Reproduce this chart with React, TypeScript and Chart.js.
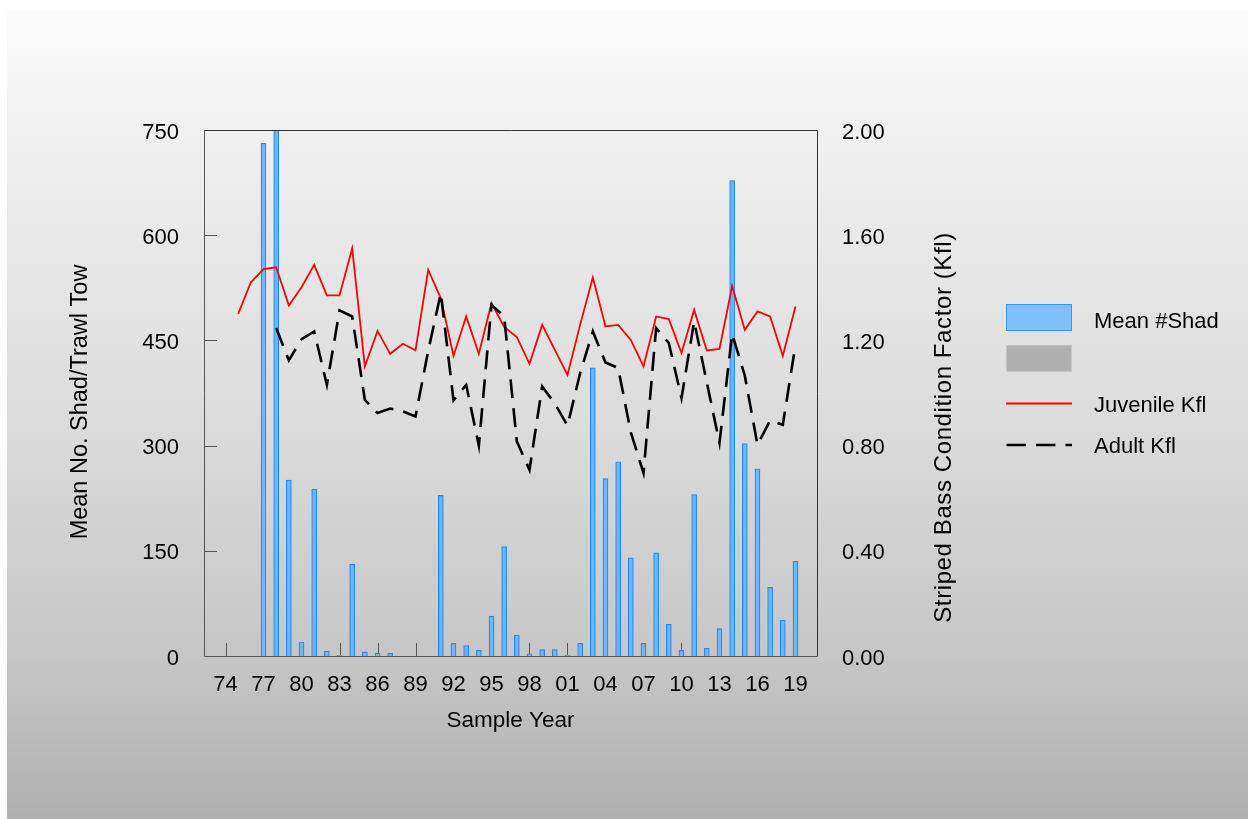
import React, { useEffect, useRef } from "react";
import { Chart, registerables } from "chart.js";

Chart.register(...registerables);

const FONT = '"Liberation Sans", Arial, Helvetica, sans-serif';

// Sample years (x categories)
const years = [
  1974, 1975, 1976, 1977, 1978, 1979, 1980, 1981, 1982, 1983, 1984, 1985,
  1986, 1987, 1988, 1989, 1990, 1991, 1992, 1993, 1994, 1995, 1996, 1997,
  1998, 1999, 2000, 2001, 2002, 2003, 2004, 2005, 2006, 2007, 2008, 2009,
  2010, 2011, 2012, 2013, 2014, 2015, 2016, 2017, 2018, 2019,
];

// Mean #Shad per trawl tow (left axis)
const meanShad = [
  null, null, null, 731, 750, 251, 20, 238, 7, 1, 131, 6,
  4, 4, null, null, null, 229, 18, 15, 8, 57, 156, 30,
  3, 9, 9, 1, 18, 411, 253, 277, 140, 18, 147, 45,
  8, 230, 11, 39, 678, 303, 267, 98, 51, 135,
];

// Juvenile Kfl (right axis)
const juvenileKfl = [
  null, 1.301, 1.421, 1.471, 1.478, 1.333, 1.402, 1.487, 1.371, 1.371, 1.55, 1.101,
  1.236, 1.149, 1.187, 1.162, 1.468, 1.36, 1.141, 1.291, 1.149, 1.342, 1.251, 1.213,
  1.111, 1.259, 1.164, 1.069, 1.26, 1.439, 1.253, 1.259, 1.202, 1.101, 1.291, 1.281,
  1.152, 1.316, 1.162, 1.168, 1.407, 1.24, 1.31, 1.291, 1.141, 1.329,
];

// Adult Kfl (right axis)
const adultKfl = [
  null, null, null, null, 1.247, 1.124, 1.205, 1.234, 1.031, 1.314, 1.291, 0.974,
  0.924, 0.941, 0.93, 0.911, 1.16, 1.38, 0.972, 1.031, 0.8, 1.335, 1.291, 0.816,
  0.708, 1.025, 0.96, 0.876, 1.076, 1.234, 1.116, 1.095, 0.85, 0.696, 1.247, 1.19,
  0.981, 1.272, 1.04, 0.81, 1.225, 1.066, 0.803, 0.896, 0.879, 1.183,
];

const xTickYears = [1974, 1977, 1980, 1983, 1986, 1989, 1992, 1995, 1998, 2001, 2004, 2007, 2010, 2013, 2016, 2019];
const leftTicks = [0, 150, 300, 450, 600, 750];
const rightTicks = [0, 0.4, 0.8, 1.2, 1.6, 2.0];

const legendLabels = ["Mean #Shad", "", "Juvenile Kfl", "Adult Kfl"];
const titleX = "Sample Year";
const titleLeft = "Mean No. Shad/Trawl Tow";
const titleRight = "Striped Bass Condition Factor (Kfl)";

const bgPlugin = {
  id: "bgGradient",
  beforeDraw(chart: any) {
    const ctx = chart.ctx;
    const W = chart.width;
    const H = chart.height;
    ctx.save();
    ctx.fillStyle = "#ffffff";
    ctx.fillRect(0, 0, W, H);
    const g = ctx.createLinearGradient(0, 10, 0, H);
    g.addColorStop(0, "#fcfcfc");
    g.addColorStop(0.15, "#f0f0f0");
    g.addColorStop(0.5, "#dcdcdc");
    g.addColorStop(0.8, "#c6c6c6");
    g.addColorStop(1, "#b0b0b0");
    ctx.fillStyle = g;
    ctx.fillRect(7, 10, 1241, H - 10);
    ctx.restore();
  },
};

const tickPlugin = {
  id: "innerTicks",
  beforeDatasetsDraw(chart: any) {
    const ctx = chart.ctx;
    const xs = chart.scales.x;
    const ys = chart.scales.y;
    const { left, bottom } = chart.chartArea;
    ctx.save();
    ctx.strokeStyle = "#555555";
    ctx.lineWidth = 1;
    ctx.beginPath();
    xTickYears.forEach((v) => {
      const px = Math.round(xs.getPixelForValue(v)) + 0.5;
      ctx.moveTo(px, bottom);
      ctx.lineTo(px, bottom - 13);
    });
    leftTicks.slice(1, -1).forEach((v) => {
      const py = Math.round(ys.getPixelForValue(v)) + 0.5;
      ctx.moveTo(left, py);
      ctx.lineTo(left + 13, py);
    });
    ctx.stroke();
    ctx.restore();
  },
  afterDatasetsDraw(chart: any) {
    const ctx = chart.ctx;
    const { left, right, top, bottom } = chart.chartArea;
    ctx.save();
    ctx.lineWidth = 1;
    ctx.strokeStyle = "#333333";
    ctx.beginPath();
    ctx.moveTo(left, top + 0.5);
    ctx.lineTo(right + 0.5, top + 0.5);
    ctx.lineTo(right + 0.5, bottom);
    ctx.stroke();
    ctx.strokeStyle = "#555555";
    ctx.beginPath();
    ctx.moveTo(left + 0.5, top);
    ctx.lineTo(left + 0.5, bottom + 0.5);
    ctx.lineTo(right + 0.5, bottom + 0.5);
    ctx.stroke();
    ctx.restore();
  },
};

const textPlugin = {
  id: "titlesLegend",
  afterDraw(chart: any) {
    const ctx = chart.ctx;
    const { left, right } = chart.chartArea;
    ctx.save();
    ctx.fillStyle = "#000000";
    ctx.textBaseline = "middle";

    ctx.textAlign = "center";
    ctx.font = `22.5px ${FONT}`;
    ctx.fillText(titleX, (left + right) / 2, 721);

    ctx.save();
    ctx.translate(81, 402);
    ctx.rotate(-Math.PI / 2);
    ctx.font = `23.5px ${FONT}`;
    ctx.fillText(titleLeft, 0, 0);
    ctx.restore();

    ctx.save();
    ctx.translate(944, 427.5);
    ctx.rotate(-Math.PI / 2);
    ctx.font = `24px ${FONT}`;
    try {
      (ctx as any).letterSpacing = "0.6px";
    } catch (e) {}
    ctx.fillText(titleRight, 0, 0);
    ctx.restore();

    // Legend
    ctx.fillStyle = "#80bfff";
    ctx.fillRect(1006.5, 304.5, 65, 26);
    ctx.strokeStyle = "#3399ff";
    ctx.lineWidth = 1;
    ctx.strokeRect(1006.5, 304.5, 65, 26);

    ctx.fillStyle = "#b0b0b0";
    ctx.fillRect(1006.5, 345.5, 65, 26);
    ctx.strokeStyle = "#c4c4c4";
    ctx.strokeRect(1006.5, 345.5, 65, 26);

    ctx.strokeStyle = "#ff0000";
    ctx.lineWidth = 1.8;
    ctx.beginPath();
    ctx.moveTo(1006, 403.5);
    ctx.lineTo(1072, 403.5);
    ctx.stroke();

    ctx.strokeStyle = "#000000";
    ctx.lineWidth = 2.5;
    ctx.setLineDash([19.5, 10]);
    ctx.beginPath();
    ctx.moveTo(1006.5, 445);
    ctx.lineTo(1072, 445);
    ctx.stroke();
    ctx.setLineDash([]);

    ctx.fillStyle = "#000000";
    ctx.textAlign = "left";
    ctx.font = `22px ${FONT}`;
    ctx.fillText(legendLabels[0], 1094, 322);
    ctx.fillText(legendLabels[2], 1094, 406);
    ctx.fillText(legendLabels[3], 1094, 446.5);
    ctx.restore();
  },
};

export default function App() {
  const canvasRef = useRef<HTMLCanvasElement | null>(null);

  useEffect(() => {
    if (!canvasRef.current) return;
    const tickFont = { family: FONT, size: 22 };
    const chart = new Chart(canvasRef.current, {
      type: "bar",
      data: {
        datasets: [
          {
            type: "line",
            label: "Adult Kfl",
            data: years.map((x, i) => ({ x, y: adultKfl[i] })),
            yAxisID: "y1",
            borderColor: "#000000",
            borderWidth: 2.6,
            borderDash: [19, 10],
            pointRadius: 0,
            tension: 0,
            fill: false,
            order: 1,
          } as any,
          {
            type: "line",
            label: "Juvenile Kfl",
            data: years.map((x, i) => ({ x, y: juvenileKfl[i] })),
            yAxisID: "y1",
            borderColor: "#ff0000",
            borderWidth: 1.8,
            pointRadius: 0,
            tension: 0,
            fill: false,
            order: 2,
          } as any,
          {
            type: "bar",
            label: "Mean #Shad",
            data: years.map((x, i) => ({ x, y: meanShad[i] })),
            yAxisID: "y",
            backgroundColor: "#6fb6ff",
            borderColor: "#1f8bff",
            borderWidth: 1.2,
            barThickness: 5,
            order: 3,
          } as any,
        ],
      },
      options: {
        animation: false,
        responsive: true,
        maintainAspectRatio: false,
        layout: { padding: { top: 130, left: 0, right: 0, bottom: 0 } },
        plugins: {
          legend: { display: false },
          tooltip: { enabled: false },
          title: { display: false },
        },
        scales: {
          x: {
            type: "linear",
            min: 1972.3,
            max: 2020.7,
            offset: false,
            grid: { display: false, drawTicks: false, offset: false },
            border: { display: false },
            afterBuildTicks: (scale: any) => {
              scale.ticks = xTickYears.map((v) => ({ value: v }));
            },
            afterFit: (scale: any) => {
              scale.height = 163;
            },
            ticks: {
              font: tickFont,
              color: "#000000",
              padding: 16,
              maxRotation: 0,
              autoSkip: false,
              callback: (v: any) => String(Number(v) % 100).padStart(2, "0"),
            },
          },
          y: {
            type: "linear",
            position: "left",
            min: 0,
            max: 750,
            grid: { display: false, drawTicks: false },
            border: { display: false },
            afterBuildTicks: (scale: any) => {
              scale.ticks = leftTicks.map((v) => ({ value: v }));
            },
            afterFit: (scale: any) => {
              scale.width = 204;
            },
            ticks: {
              font: tickFont,
              color: "#000000",
              padding: 25,
              labelOffset: 2.5,
              callback: (v: any) => String(v),
            },
          },
          y1: {
            type: "linear",
            position: "right",
            min: 0,
            max: 2,
            grid: { display: false, drawTicks: false },
            border: { display: false },
            afterBuildTicks: (scale: any) => {
              scale.ticks = rightTicks.map((v) => ({ value: v }));
            },
            afterFit: (scale: any) => {
              scale.width = 435;
            },
            ticks: {
              font: tickFont,
              color: "#000000",
              padding: 25,
              labelOffset: 2.5,
              callback: (v: any) => Number(v).toFixed(2),
            },
          },
        },
      },
      plugins: [bgPlugin, tickPlugin, textPlugin],
    } as any);
    return () => chart.destroy();
  }, []);

  return (
    <div style={{ position: "fixed", left: 0, top: 0, width: 1252, height: 819 }}>
      <canvas ref={canvasRef} />
    </div>
  );
}
